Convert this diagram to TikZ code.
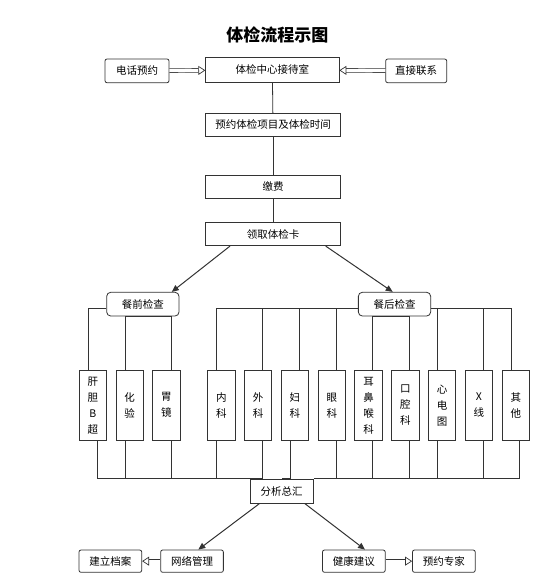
\documentclass[tikz,border=0pt]{standalone}
\usepackage{fontspec}
\newfontfamily\cjk{Noto Sans CJK SC}
\usetikzlibrary{arrows.meta,positioning}
\definecolor{linegray}{HTML}{333333}

\begin{document}
\begin{tikzpicture}[
  x=1pt, y=-1pt,
  >=Triangle,
  line width=0.8pt,
  box/.style={rectangle, draw=linegray, fill=white, minimum height=23pt, inner sep=0pt, font=\cjk\fontsize{10.5}{12}\selectfont},
  soft/.style={box, rounded corners=2pt, minimum width=62.7pt, minimum height=22.3pt},
  pill/.style={box, rounded corners=4pt, minimum width=72.3pt, minimum height=23.7pt},
  col/.style={box, minimum width=27.4pt, minimum height=70.7pt, align=center, font=\cjk\fontsize{10.5}{16}\selectfont},
  link/.style={draw=linegray, line width=0.8pt},
  flow/.style={-{Triangle[length=7pt,width=6pt]}, draw=linegray, line width=1pt},
  hollow/.style={draw=linegray, double=white, double distance=3pt, line width=0.7pt, -{Triangle[open,length=7pt,width=9pt]}}
]
  \useasboundingbox (0,0) rectangle (540,579);

  \node[font=\cjk\bfseries\fontsize{17}{20}\selectfont] (title) at (277.3,35) {体检流程示图};

  % reception row
  \node[box, minimum width=133.3pt, minimum height=24.3pt] (recv) at (272.35,69.85) {体检中心接待室};
  \node[soft, minimum width=64pt, minimum height=23.7pt] (phone) at (137,70.85) {电话预约};
  \node[soft, minimum width=61pt, minimum height=23.7pt] (direct) at (416.2,70.85) {直接联系};

  % main chain
  \node[box, minimum width=135pt, minimum height=22.7pt] (book) at (273,124.65) {预约体检项目及体检时间};
  \node[box, minimum width=135pt] (pay) at (273,186.8) {缴费};
  \node[box, minimum width=135pt, minimum height=23.4pt] (card) at (273,234) {领取体检卡};

  \node[pill] (qian) at (142.85,304.15) {餐前检查};
  \node[pill] (hou) at (394.5,304.15) {餐后检查};

  % check columns
  \node[col] (c1) at (92.85,405.3) {肝\\胆\\B\\超};
  \node[col, right=8.6pt of c1] (c2) {化\\验};
  \node[col, right=8.6pt of c2] (c3) {胃\\镜};
  \node[col, right=26.7pt of c3] (c4) {内\\科};
  \node[col, right=8.6pt of c4] (c5) {外\\科};
  \node[col, right=8.6pt of c5] (c6) {妇\\科};
  \node[col, right=8.6pt of c6] (c7) {眼\\科};
  \node[col, right=8.6pt of c7] (c8) {耳\\鼻\\喉\\科};
  \node[col, right=8.6pt of c8] (c9) {口\\腔\\科};
  \node[col, right=8.6pt of c9] (c10) {心\\电\\图};
  \node[col, right=8.6pt of c10] (c11) {X\\线};
  \node[col, right=8.6pt of c11] (c12) {其\\他};

  \node[box, minimum width=63.3pt, minimum height=24.3pt] (hui) at (281.65,491.15) {分析总汇};

  % results row
  \node[soft] (file) at (110.35,561.15) {建立档案};
  \node[soft] (net) at (192,561.15) {网络管理};
  \node[soft] (advice) at (353.85,561.15) {健康建议};
  \node[soft] (expert) at (443.85,561.15) {预约专家};

  \draw[hollow] (phone) -- (recv);
  \draw[hollow] (direct) -- (recv);
  \draw[link] (recv) -- (book);
  \draw[link] (book) -- (pay);
  \draw[link] (pay) -- (card);
  \draw[flow] ([xshift=-43pt]card.south) -- ([xshift=28.9pt]qian.north);
  \draw[flow] ([xshift=52.7pt]card.south) -- ([xshift=-1.8pt]hou.north);

  % before-meal branch
  \draw[link] ([yshift=-4pt]qian.west) -| ([xshift=-4.8pt]c1.north);
  \draw[link] ([xshift=-4.7pt]c2.north) |- (qian.south);
  \draw[link] ([xshift=4.5pt]c3.north) |- (qian.south);

  % after-meal branch
  \draw[link] ([xshift=-4.5pt]c4.north) |- ([yshift=-4pt]hou.west);
  \draw[link] ([xshift=4.3pt]c5.north) |- ([yshift=-4pt]hou.west);
  \draw[link] ([xshift=4.7pt]c6.north) |- ([yshift=-4pt]hou.west);
  \draw[link] ([xshift=4.7pt]c7.north) |- ([yshift=-4pt]hou.west);
  \draw[link] ([xshift=4.3pt]c8.north) |- (hou.south);
  \draw[link] ([xshift=4.3pt]c9.north) |- (hou.south);
  \draw[link] ([xshift=-4.3pt]c10.north) |- ([yshift=-4pt]hou.east);
  \draw[link] ([xshift=4.7pt]c11.north) |- ([yshift=-4pt]hou.east);
  \draw[link] ([xshift=-4.3pt]c12.north) |- ([yshift=-4pt]hou.east);

  % summary bus
  \draw[link] ([xshift=4.5pt]c1.south) |- (hui.north west);
  \draw[link] ([xshift=-4.7pt]c2.south) |- (hui.north west);
  \draw[link] ([xshift=4.5pt]c3.south) |- (hui.north west);
  \draw[link] ([xshift=-4.5pt]c4.south) |- (hui.north west);
  \draw[link] ([xshift=4.3pt]c5.south) |- (hui.north west);
  \draw[link] ([xshift=-4.3pt]c6.south) |- (hui.north);
  \draw[link] ([xshift=4.7pt]c7.south) |- (hui.north east);
  \draw[link] ([xshift=4.3pt]c8.south) |- (hui.north east);
  \draw[link] ([xshift=4.3pt]c9.south) |- (hui.north east);
  \draw[link] ([xshift=-4.3pt]c10.south) |- (hui.north east);
  \draw[link] ([xshift=4.7pt]c11.south) |- (hui.north east);
  \draw[link] ([xshift=4pt]c12.south) |- (hui.north east);

  \draw[flow] ([xshift=-22.35pt]hui.south) -- ([xshift=6.3pt]net.north);
  \draw[flow] ([xshift=23.35pt]hui.south) -- ([xshift=11.15pt]advice.north);
  \draw[hollow] (net) -- (file);
  \draw[hollow] (advice) -- (expert);
\end{tikzpicture}
\end{document}
